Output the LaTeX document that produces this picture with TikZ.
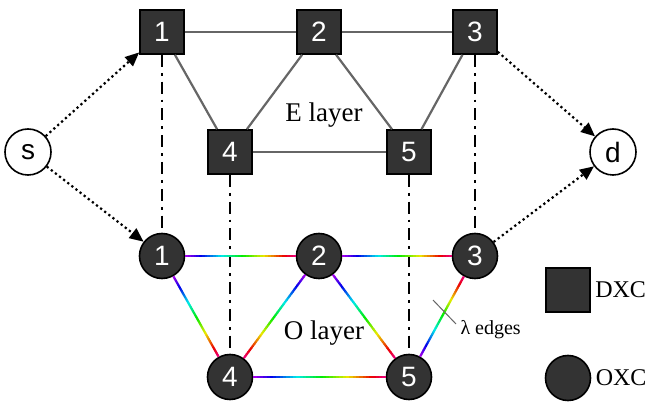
\documentclass[tikz,border=0pt]{standalone}
\usepackage{fontspec}
\setmainfont{Liberation Serif}
\newfontfamily\numfont{Liberation Sans}
\usetikzlibrary{arrows.meta, calc, positioning}
\definecolor{boxgray}{HTML}{333333}
\definecolor{linkgray}{HTML}{666666}
\tikzset{
  dxc/.style={draw=black, line width=1.6pt, fill=boxgray, minimum size=44pt, inner sep=0pt, text=white, font=\numfont\fontsize{28}{28}\selectfont},
  oxc/.style={dxc, circle, minimum size=45pt},
  endpt/.style={circle, draw=black, line width=1.6pt, fill=white, minimum size=46pt, inner sep=0pt, font=\numfont\fontsize{28}{28}\selectfont},
  elink/.style={draw=linkgray, line width=2.2pt},
  vlink/.style={line width=2.8pt, dash pattern=on 12pt off 6pt on 2.8pt off 6pt},
  dotarrow/.style={line width=2.2pt, dash pattern=on 2.2pt off 3pt, -{Triangle[length=14pt, width=12pt]}},
  txt/.style={font=\fontsize{27}{27}\selectfont}
}
\newcommand\rainbowedge[2]{%
  \path (#1) -- (#2) coordinate[pos=0] (ra) coordinate[pos=1] (rb);
  \foreach \i in {0,...,39}{
    \pgfmathsetmacro\hue{mod(1.78-0.86*\i/39,1)}
    \pgfmathsetmacro\upto{min(\i/40+0.03,1)}
    \definecolor{rbw}{hsb}{\hue,1,0.92}
    \draw[rbw, line width=2.2pt] ($(ra)!\i/40!(rb)$) -- ($(ra)!\upto!(rb)$);
  }}

\begin{document}
\begin{tikzpicture}[x=1pt, y=-1pt]
  \useasboundingbox (0,0) rectangle (646,403);
  \node[dxc] (e1) at (162,32) {1};
  \node[dxc] (e2) at (319,32) {2};
  \node[dxc] (e3) at (475,32) {3};
  \node[dxc] (e4) at (230,152) {4};
  \node[dxc] (e5) at (409,152) {5};
  \node[oxc] (o1) at (162,256) {1};
  \node[oxc] (o2) at (319,256) {2};
  \node[oxc] (o3) at (475,256) {3};
  \node[oxc] (o4) at (230,377) {4};
  \node[oxc] (o5) at (409,377) {5};
  \node[endpt] (s) at (28,152) {s};
  \node[endpt] (d) at (613,152) {d};

  \draw[elink] (e1) -- (e2) -- (e3);
  \draw[elink] (e1) -- (e4) -- (e2) -- (e5) -- (e3);
  \draw[elink] (e4) -- (e5);
  \foreach \k in {1,3,4,5}
    \draw[vlink] (e\k) -- (o\k);
  \rainbowedge{o1}{o2}
  \rainbowedge{o2}{o3}
  \rainbowedge{o1}{o4}
  \rainbowedge{o2}{o4}
  \rainbowedge{o2}{o5}
  \rainbowedge{o4}{o5}
  \rainbowedge{o5}{o3}

  \draw[dotarrow] (s) -- (e1);
  \draw[dotarrow] (s) -- (o1);
  \draw[dotarrow] (e3) -- (d);
  \draw[dotarrow] (o3) -- (d);

  \node[txt] (elayer) at (324,115) {E layer};
  \node[txt] (olayer) at (324,333) {O layer};
  \node[font=\fontsize{20}{20}\selectfont, anchor=west] (lam) at (457,330) {λ edges};
  \coordinate (lamtip) at (433,300);
  \coordinate (lamfoot) at (456,324);
  \draw[linkgray, line width=1pt] (lamfoot) -- (lamtip);

  \node[dxc] (legdxc) at (568,290) {};
  \node[txt, right=1pt of legdxc, font=\fontsize{24}{24}\selectfont] (dxctext) {DXC};
  \node[oxc] (legoxc) at (568,378) {};
  \node[txt, right=1pt of legoxc, font=\fontsize{24}{24}\selectfont] (oxctext) {OXC};
\end{tikzpicture}
\end{document}
